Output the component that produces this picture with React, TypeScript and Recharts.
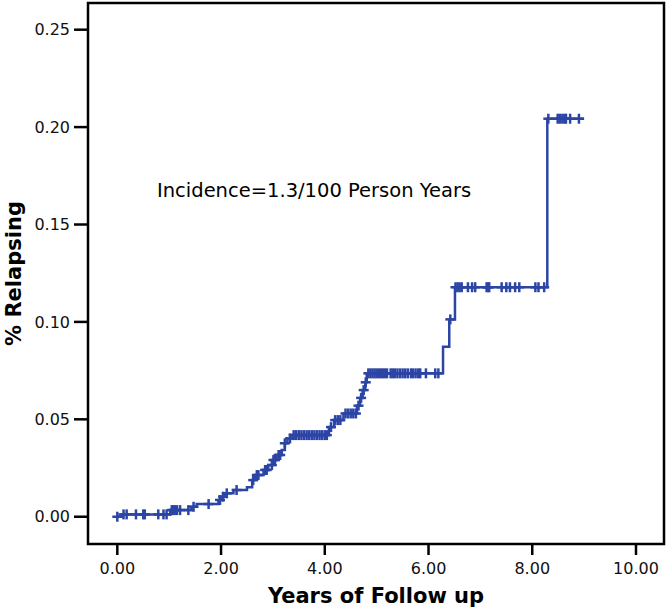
import {
  ComposedChart,
  Line,
  Scatter,
  XAxis,
  YAxis,
  ReferenceArea,
} from 'recharts'

// step points of the cumulative relapse curve (years, proportion relapsed)
const eventTimes = [
  0, 0.085, 1.02, 1.43, 1.53, 1.95, 2.01, 2.08, 2.24, 2.5, 2.6, 2.66, 2.82, 2.91,
  3.0, 3.07, 3.17, 3.23, 3.28, 3.38, 4.08, 4.18, 4.36, 4.62, 4.68, 4.73, 4.78,
  4.81, 6.28, 6.4, 6.51, 8.29,
]
const eventLevels = [
  0, 0.0012, 0.0034, 0.0051, 0.0065, 0.0086, 0.0103, 0.012, 0.0137, 0.0151,
  0.0188, 0.0214, 0.024, 0.0265, 0.0291, 0.0317, 0.0342, 0.0377, 0.0402, 0.0419,
  0.046, 0.0496, 0.053, 0.057, 0.061, 0.065, 0.069, 0.0736, 0.0873, 0.1013,
  0.1178, 0.2043,
]
const lastFollowUp = 9.0

// censored observations (years)
const censorTimes = [
  0.0, 0.12, 0.18, 0.36, 0.5, 0.53, 0.79, 0.89, 0.95, 1.05, 1.08, 1.11, 1.15,
  1.21, 1.37, 1.47, 1.76, 1.98, 2.04, 2.11, 2.3, 2.62, 2.69, 2.72, 2.85, 2.88,
  2.98, 3.01, 3.04, 3.11, 3.14, 3.23, 3.33,
  3.4, 3.45, 3.5, 3.55, 3.6, 3.65, 3.7, 3.75, 3.8, 3.85, 3.9, 3.95, 4.0, 4.04,
  4.12, 4.2, 4.25, 4.3, 4.4, 4.45, 4.5, 4.55, 4.6, 4.65, 4.7, 4.75, 4.79,
  4.84, 4.88, 4.92, 4.96, 5.0, 5.04, 5.08, 5.12, 5.16, 5.2, 5.27, 5.31, 5.35,
  5.4, 5.45, 5.5, 5.55, 5.6, 5.66, 5.7, 5.75, 5.8, 5.84, 5.95, 6.13, 6.19,
  6.42,
  6.52, 6.56, 6.6, 6.64, 6.76, 6.84, 6.9, 7.12, 7.15, 7.17, 7.41, 7.5, 7.57,
  7.67, 7.75, 8.06, 8.12, 8.23,
  8.31, 8.49, 8.53, 8.58, 8.62, 8.65, 8.73, 8.9,
]

const xTicks = [0, 2, 4, 6, 8, 10]
const yTicks = [0, 0.05, 0.1, 0.15, 0.2, 0.25]
const xDomain = [-0.565, 10.54]
const yDomain = [-0.014, 0.2637]

const BLUE = '#2c45a5'
const FONT = '"DejaVu Sans", sans-serif'

const levelAt = (t: number) => {
  let lvl = 0
  eventTimes.forEach((et, i) => {
    if (et <= t) lvl = eventLevels[i]
  })
  return lvl
}

const curve = [
  ...eventTimes.map((t, i) => ({ t, v: eventLevels[i] })),
  { t: lastFollowUp, v: levelAt(lastFollowUp) },
]
const censored = censorTimes.map((t) => ({ t, v: levelAt(t) }))

const CensorMark = (props: any) => {
  const { cx, cy } = props
  if (cx == null || cy == null) return null
  return (
    <g stroke={BLUE} strokeWidth={2.5}>
      <line x1={cx - 5} y1={cy} x2={cx + 5} y2={cy} />
      <line x1={cx} y1={cy - 5} x2={cx} y2={cy + 5} />
    </g>
  )
}

export default function App() {
  return (
    <div style={{ position: 'absolute', left: 0, top: 0, width: 668, height: 610, background: '#fff' }}>
      <ComposedChart
        width={668}
        height={610}
        margin={{ top: 3, right: 4, left: 0, bottom: 0 }}
        style={{ fontFamily: FONT }}
      >
        <XAxis
          dataKey="t"
          type="number"
          domain={xDomain}
          allowDataOverflow
          ticks={xTicks}
          tickFormatter={(v) => v.toFixed(2)}
          height={66}
          axisLine={false}
          tickLine={{ stroke: '#000', strokeWidth: 2.5 }}
          tickSize={11}
          tickMargin={8}
          tick={{ fill: '#111', fontSize: 16, fontFamily: FONT }}
          label={{
            value: 'Years of Follow up',
            position: 'insideBottom',
            offset: 7,
            style: { fontSize: 21, fontWeight: 'bold', fill: '#000', fontFamily: FONT },
          }}
        />
        <YAxis
          dataKey="v"
          type="number"
          domain={yDomain}
          allowDataOverflow
          ticks={yTicks}
          tickFormatter={(v) => v.toFixed(2)}
          width={88}
          axisLine={false}
          tickLine={{ stroke: '#000', strokeWidth: 2.5 }}
          tickSize={14}
          tickMargin={4}
          tick={{ fill: '#111', fontSize: 16, fontFamily: FONT }}
          label={{
            value: '% Relapsing',
            angle: -90,
            position: 'insideLeft',
            offset: 14,
            style: { textAnchor: 'middle', fontSize: 21, fontWeight: 'bold', fill: '#000', fontFamily: FONT },
          }}
        />
        <ReferenceArea
          x1={xDomain[0]}
          x2={xDomain[1]}
          y1={yDomain[0]}
          y2={yDomain[1]}
          fill="none"
          stroke="#000"
          strokeWidth={2.5}
          ifOverflow="visible"
        />
        <Line
          data={curve}
          dataKey="v"
          type="stepAfter"
          stroke={BLUE}
          strokeWidth={2.5}
          dot={false}
          activeDot={false}
          isAnimationActive={false}
        />
        <Scatter
          data={censored}
          dataKey="v"
          shape={CensorMark}
          isAnimationActive={false}
        />
      </ComposedChart>
      <div
        style={{
          position: 'absolute',
          left: 157,
          top: 180.5,
          fontFamily: FONT,
          fontSize: 19.5,
          lineHeight: 1,
          color: '#000',
          whiteSpace: 'nowrap',
        }}
      >
        Incidence=1.3/100 Person Years
      </div>
    </div>
  )
}
